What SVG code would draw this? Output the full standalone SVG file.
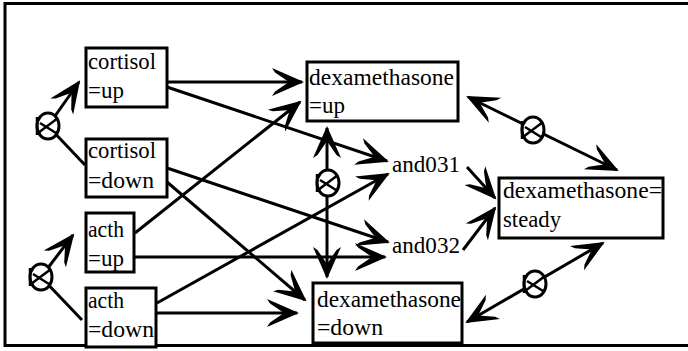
<svg xmlns="http://www.w3.org/2000/svg" width="688" height="351" viewBox="0 0 688 351">
  <style>
    .frame { fill: #fff; stroke: #000; stroke-width: 3; }
    .box { fill: #fff; stroke: #000; stroke-width: 3; }
    .edge { fill: none; stroke: #000; stroke-width: 3; }
    .arrow { stroke: #000; stroke-width: 3; fill: none; marker-end: url(#vee); }
    .both { stroke: #000; stroke-width: 3; fill: none; marker-start: url(#vee); marker-end: url(#vee); }
    .inh ellipse { fill: #fff; stroke: #000; stroke-width: 3; }
    .inh line { stroke: #000; stroke-width: 2.5; }
    text { font-family: "Liberation Serif", "DejaVu Serif", serif; font-size: 23px; fill: #000; }
  </style>
  <defs>
    <!-- swept "vee" arrowhead, tip at the origin -->
    <marker id="vee" markerUnits="userSpaceOnUse" viewBox="-33 -16 36 32" markerWidth="36" markerHeight="32" refX="0" refY="0" orient="auto-start-reverse">
      <path d="M2,0 L-30,-14 L-27,-9.5 L-13,0 L-27,9.5 L-30,14 Z" fill="#000"/>
    </marker>
    <!-- inhibition mark: crossed circle with a bar -->
    <g id="inhib" class="inh">
      <ellipse cx="0" cy="0" rx="11" ry="13"/>
      <line x1="-11" y1="-9" x2="-11" y2="9"/>
      <line x1="-10" y1="7" x2="10" y2="-8"/>
      <line x1="-8" y1="-3" x2="8" y2="7"/>
    </g>
  </defs>

  <rect class="frame" x="5" y="3.5" width="700" height="342"/>

  <g id="connectors">
    <line class="arrow" x1="167" y1="82" x2="302" y2="82"/>
    <line class="arrow" x1="167" y1="87" x2="387" y2="161"/>
    <line class="arrow" x1="167" y1="168" x2="388" y2="242"/>
    <line class="arrow" x1="167" y1="182" x2="305" y2="300"/>
    <line class="arrow" x1="135" y1="233" x2="300" y2="102"/>
    <line class="arrow" x1="134" y1="257" x2="385" y2="257"/>
    <line class="arrow" x1="157" y1="303" x2="388" y2="174"/>
    <line class="arrow" x1="156" y1="313" x2="297" y2="313"/>
    <line class="both" x1="327" y1="128" x2="327" y2="277"/>
    <line class="arrow" x1="467" y1="167" x2="495" y2="198"/>
    <line class="arrow" x1="463" y1="250" x2="495" y2="208"/>
    <line class="both" x1="468" y1="97" x2="617" y2="170"/>
    <line class="both" x1="467" y1="322" x2="603" y2="243"/>
    <line class="edge" x1="85" y1="165" x2="48" y2="126"/>
    <line class="arrow" x1="48" y1="126" x2="79" y2="82"/>
    <line class="edge" x1="82" y1="320" x2="41" y2="277"/>
    <line class="arrow" x1="41" y1="277" x2="73" y2="235"/>
    <use href="#inhib" x="48" y="126"/>
    <use href="#inhib" x="41" y="277"/>
    <use href="#inhib" x="328" y="183"/>
    <use href="#inhib" x="533" y="130"/>
    <use href="#inhib" x="535" y="284"/>
  </g>

  <g id="cortisol_up">
    <rect class="box" x="86" y="48" width="81" height="59"/>
    <text x="88" y="69" textLength="68" lengthAdjust="spacingAndGlyphs">cortisol</text>
    <text x="88" y="98" textLength="36" lengthAdjust="spacingAndGlyphs">=up</text>
  </g>
  <g id="cortisol_down">
    <rect class="box" x="86" y="139" width="81" height="58"/>
    <text x="88" y="158" textLength="68" lengthAdjust="spacingAndGlyphs">cortisol</text>
    <text x="88" y="188" textLength="66" lengthAdjust="spacingAndGlyphs">=down</text>
  </g>
  <g id="acth_up">
    <rect class="box" x="86" y="213" width="48" height="59"/>
    <text x="88" y="237" textLength="36" lengthAdjust="spacingAndGlyphs">acth</text>
    <text x="88" y="266" textLength="36" lengthAdjust="spacingAndGlyphs">=up</text>
  </g>
  <g id="acth_down">
    <rect class="box" x="86" y="288" width="70" height="59"/>
    <text x="88" y="308" textLength="36" lengthAdjust="spacingAndGlyphs">acth</text>
    <text x="88" y="337" textLength="66" lengthAdjust="spacingAndGlyphs">=down</text>
  </g>
  <g id="dexamethasone_up">
    <rect class="box" x="307" y="62" width="151" height="59"/>
    <text x="309" y="85" textLength="145" lengthAdjust="spacingAndGlyphs">dexamethasone</text>
    <text x="309" y="113" textLength="36" lengthAdjust="spacingAndGlyphs">=up</text>
  </g>
  <g id="dexamethasone_down">
    <rect class="box" x="313" y="283" width="149" height="60"/>
    <text x="317" y="307" textLength="144" lengthAdjust="spacingAndGlyphs">dexamethasone</text>
    <text x="317" y="335" textLength="66" lengthAdjust="spacingAndGlyphs">=down</text>
  </g>
  <g id="dexamethasone_steady">
    <rect class="box" x="499" y="178" width="164" height="60"/>
    <text x="503" y="198" textLength="159" lengthAdjust="spacingAndGlyphs">dexamethasone=</text>
    <text x="503" y="227" textLength="58" lengthAdjust="spacingAndGlyphs">steady</text>
  </g>
  <g id="and031">
    <text x="392" y="172" textLength="68" lengthAdjust="spacingAndGlyphs">and031</text>
  </g>
  <g id="and032">
    <text x="392" y="253" textLength="68" lengthAdjust="spacingAndGlyphs">and032</text>
  </g>
</svg>
